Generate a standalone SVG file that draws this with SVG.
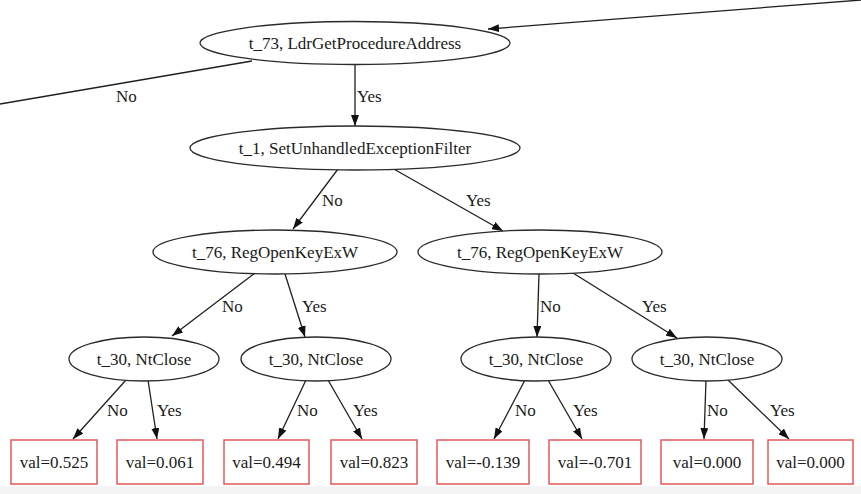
<svg xmlns="http://www.w3.org/2000/svg" width="861" height="494" viewBox="0 0 861 494">
<style>
  text { font-family: "Liberation Serif", "Times New Roman", serif; font-size: 17px; fill: #1a1a1a; }
  .n text, .l text { text-anchor: middle; }
  .n ellipse { fill: #ffffff; stroke: #2a2a2a; stroke-width: 1.3; }
  .l rect { fill: #ffffff; stroke: #e25a5a; stroke-width: 1.5; }
  #edges line { stroke: #1f1f1f; stroke-width: 1.3; fill: none; }
  #edges line.a { marker-end: url(#arr); }
</style>
<defs>
  <marker id="arr" markerUnits="userSpaceOnUse" markerWidth="11" markerHeight="8" refX="11" refY="4" orient="auto">
    <path d="M0,0 L11,4 L0,8 z" fill="#111111"/>
  </marker>
</defs>
<rect x="0" y="0" width="861" height="494" fill="#ffffff"/>
<rect x="0" y="486" width="861" height="8" fill="#f4f4f4"/>

<g id="edges">
  <line class="a" x1="861" y1="0" x2="488" y2="29"/>
  <line x1="252" y1="61" x2="0" y2="104"/>
  <line class="a" x1="355" y1="65" x2="355" y2="126"/>
  <line class="a" x1="338" y1="169" x2="293" y2="229"/>
  <line class="a" x1="392" y1="168" x2="503" y2="231"/>
  <line class="a" x1="255" y1="273" x2="172" y2="336"/>
  <line class="a" x1="285" y1="274" x2="305" y2="337"/>
  <line class="a" x1="539" y1="274" x2="537" y2="337"/>
  <line class="a" x1="573" y1="273" x2="677" y2="338"/>
  <line class="a" x1="126" y1="380" x2="73" y2="439"/>
  <line class="a" x1="148" y1="380" x2="157" y2="439"/>
  <line class="a" x1="306" y1="380" x2="278" y2="439"/>
  <line class="a" x1="328" y1="380" x2="362" y2="439"/>
  <line class="a" x1="525" y1="380" x2="494" y2="439"/>
  <line class="a" x1="548" y1="380" x2="582" y2="439"/>
  <line class="a" x1="706" y1="380" x2="704" y2="439"/>
  <line class="a" x1="728" y1="380" x2="789" y2="439"/>
  <text x="116" y="102">No</text>
  <text x="357" y="102">Yes</text>
  <text x="322" y="206">No</text>
  <text x="466" y="206">Yes</text>
  <text x="222" y="312">No</text>
  <text x="302" y="312">Yes</text>
  <text x="540" y="312">No</text>
  <text x="642" y="312">Yes</text>
  <text x="107" y="416">No</text>
  <text x="157" y="416">Yes</text>
  <text x="297" y="416">No</text>
  <text x="353" y="416">Yes</text>
  <text x="515" y="416">No</text>
  <text x="573" y="416">Yes</text>
  <text x="707" y="416">No</text>
  <text x="770" y="416">Yes</text>
</g>

<g id="t73" class="n"><ellipse cx="355" cy="43" rx="155" ry="21.5"/><text x="355" y="49">t_73, LdrGetProcedureAddress</text></g>
<g id="t1" class="n"><ellipse cx="355" cy="148" rx="165" ry="22"/><text x="355" y="154">t_1, SetUnhandledExceptionFilter</text></g>
<g id="t76a" class="n"><ellipse cx="275" cy="252" rx="122" ry="22"/><text x="275" y="258">t_76, RegOpenKeyExW</text></g>
<g id="t76b" class="n"><ellipse cx="540" cy="252" rx="122" ry="22"/><text x="540" y="258">t_76, RegOpenKeyExW</text></g>
<g id="t30a" class="n"><ellipse cx="144" cy="359" rx="75" ry="22"/><text x="144" y="365">t_30, NtClose</text></g>
<g id="t30b" class="n"><ellipse cx="316" cy="359" rx="75" ry="22"/><text x="316" y="365">t_30, NtClose</text></g>
<g id="t30c" class="n"><ellipse cx="536" cy="359" rx="75" ry="22"/><text x="536" y="365">t_30, NtClose</text></g>
<g id="t30d" class="n"><ellipse cx="707" cy="359" rx="75" ry="22"/><text x="707" y="365">t_30, NtClose</text></g>

<g id="leaf1" class="l"><rect x="11" y="440" width="86" height="44"/><text x="54" y="468">val=0.525</text></g>
<g id="leaf2" class="l"><rect x="117" y="440" width="86" height="44"/><text x="160" y="468">val=0.061</text></g>
<g id="leaf3" class="l"><rect x="224" y="440" width="85" height="44"/><text x="266.5" y="468">val=0.494</text></g>
<g id="leaf4" class="l"><rect x="331" y="440" width="86" height="44"/><text x="374" y="468">val=0.823</text></g>
<g id="leaf5" class="l"><rect x="437" y="440" width="92" height="44"/><text x="483" y="468">val=-0.139</text></g>
<g id="leaf6" class="l"><rect x="549" y="440" width="92" height="44"/><text x="595" y="468">val=-0.701</text></g>
<g id="leaf7" class="l"><rect x="661" y="440" width="92" height="44"/><text x="707" y="468">val=0.000</text></g>
<g id="leaf8" class="l"><rect x="768" y="440" width="85" height="44"/><text x="810.5" y="468">val=0.000</text></g>
</svg>
